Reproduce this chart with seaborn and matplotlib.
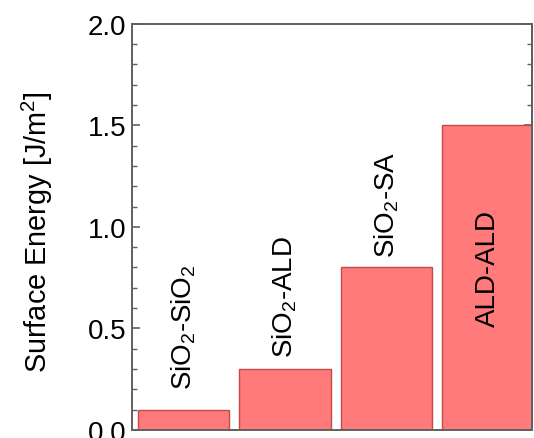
import matplotlib
matplotlib.use("Agg")
import matplotlib.pyplot as plt
import seaborn as sns
import pandas as pd
from matplotlib.ticker import MultipleLocator, FormatStrFormatter

categories = ["SiO2-SiO2", "SiO2-ALD", "SiO2-SA", "ALD-ALD"]
bar_labels = [r"SiO$_2$-SiO$_2$", r"SiO$_2$-ALD", r"SiO$_2$-SA", "ALD-ALD"]
values = [0.1, 0.3, 0.8, 1.5]
label_offsets = [0.10, 0.06, 0.05, -0.99]

sns.set_style("white")
plt.rcParams["font.family"] = ["Liberation Sans", "DejaVu Sans"]
plt.rcParams["mathtext.fontset"] = "custom"
plt.rcParams["mathtext.rm"] = "Liberation Sans"
plt.rcParams["mathtext.it"] = "Liberation Sans"
plt.rcParams["mathtext.default"] = "regular"
plt.rcParams["text.color"] = "black"
plt.rcParams["axes.labelcolor"] = "black"
plt.rcParams["ytick.color"] = "black"

df = pd.DataFrame({"cat": categories, "val": values})

fig = plt.figure(figsize=(5.34, 4.39), dpi=100)
ax = fig.add_axes([0.247, 0.018, 0.749, 0.926])

sns.barplot(data=df, x="cat", y="val", ax=ax, color="#FF7B7B",
            edgecolor="#C84848", linewidth=1.0, width=0.9, saturation=1)

ax.set_xlim(-0.507, 3.43)
ax.set_ylim(0, 2.0)
ax.set_xlabel("")
ax.set_xticks([])
ax.set_ylabel("Surface Energy [J/m$^2$]", fontsize=20.8, color="black")
ax.yaxis.set_label_coords(-0.1925, 0.49)

ax.yaxis.set_major_locator(MultipleLocator(0.5))
ax.yaxis.set_minor_locator(MultipleLocator(0.1))
ax.yaxis.set_major_formatter(FormatStrFormatter("%.1f"))
ax.tick_params(axis="y", which="major", direction="in", length=6, width=1.2,
               color="#606060", labelcolor="black", labelsize=20, pad=4,
               left=True)
ax.tick_params(axis="y", which="minor", direction="in", length=3.5, width=1.0,
               color="#606060", left=True)

for s in ax.spines.values():
    s.set_visible(True)
    s.set_color("#606060")
    s.set_linewidth(1.4)

sec = ax.secondary_yaxis("right")
sec.yaxis.set_major_locator(MultipleLocator(0.5))
sec.yaxis.set_minor_locator(MultipleLocator(0.1))
sec.tick_params(axis="y", which="major", direction="in", length=6, width=1.2,
                color="#606060", labelright=False)
sec.tick_params(axis="y", which="minor", direction="in", length=3.5, width=1.0,
                color="#606060")
sec.spines["right"].set_color("#606060")
sec.spines["right"].set_linewidth(1.4)

for i, (lab, v, off) in enumerate(zip(bar_labels, values, label_offsets)):
    ax.text(i, v + off, lab, rotation=90, ha="center", va="bottom",
            fontsize=20, color="black")

fig.savefig("out.png", dpi=100)
